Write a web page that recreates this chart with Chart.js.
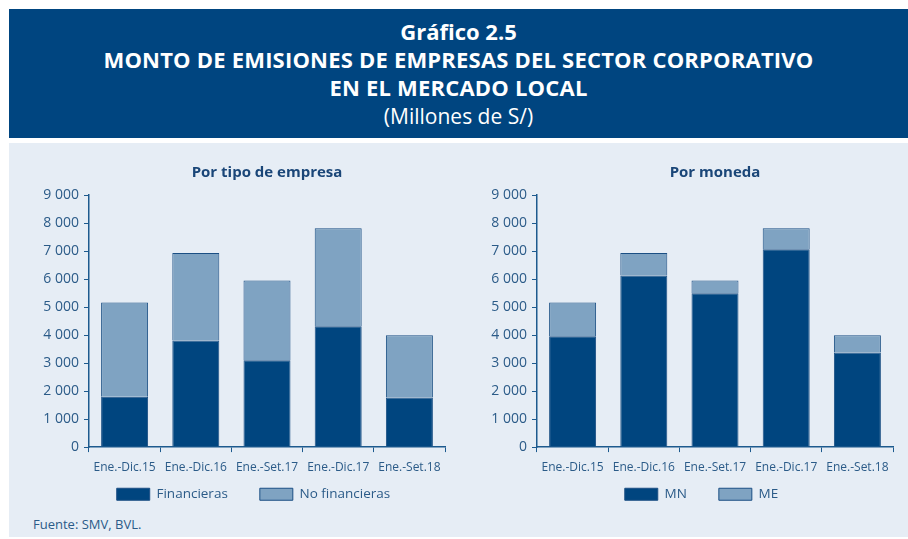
<!DOCTYPE html>
<html>
<head>
<meta charset="utf-8">
<script src="https://cdn.jsdelivr.net/npm/chart.js@4.4.1/dist/chart.umd.min.js"></script>
<style>
  body { margin: 0; width: 908px; height: 539px; background: #fff; position: relative; overflow: hidden; font-family: "Open Sans", sans-serif; }
  #banner { position: absolute; left: 9px; top: 9px; width: 899px; height: 129px; background: #004580; color: #fff; text-align: center; }
  #banner .l { position: absolute; left: 0; right: 0; line-height: 26px; }
  #panel { position: absolute; left: 9px; top: 143px; width: 899px; height: 394px; background: #e6edf5; }
  #src { position: absolute; left: 33px; top: 515px; font-size: 13px; color: #2b5b88; }
  canvas { position: absolute; }
</style>
</head>
<body>
<div id="banner">
  <div class="l" style="top:9px;font-size:22px;font-weight:700">Gráfico 2.5</div>
  <div class="l" style="top:37px;font-size:22px;font-weight:700;letter-spacing:0.2px">MONTO DE EMISIONES DE EMPRESAS DEL SECTOR CORPORATIVO</div>
  <div class="l" style="top:65px;font-size:22px;font-weight:700;letter-spacing:0.2px">EN EL MERCADO LOCAL</div>
  <div class="l" style="top:94px;font-size:21px">(Millones de S/)</div>
</div>
<div id="panel"></div>
<canvas id="c1" width="440" height="361" style="left:20px;top:150px"></canvas>
<canvas id="c2" width="440" height="361" style="left:468px;top:150px"></canvas>
<div id="src">Fuente: SMV, BVL.</div>
<script>
const categories = ['Ene.-Dic.15', 'Ene.-Dic.16', 'Ene.-Set.17', 'Ene.-Dic.17', 'Ene.-Set.18'];
const financieras = [1800, 3810, 3100, 4310, 1770];
const noFinancieras = [3360, 3120, 2850, 3500, 2220];
const mn = [3960, 6130, 5490, 7060, 3380];
const me = [1200, 800, 460, 750, 610];
const yTicks = [0, 1000, 2000, 3000, 4000, 5000, 6000, 7000, 8000, 9000];

const dark = '#00457f';
const light = '#7fa3c2';
const axis = '#1d5a8e';
const text = '#2b5b88';

function fmt(v) {
  return String(v).replace(/\B(?=(\d{3})+(?!\d))/g, ' ');
}

// wider gap between legend items, as in the original
function spacedLabels(chart) {
  const items = Chart.defaults.plugins.legend.labels.generateLabels(chart);
  items.forEach(it => { it.text = it.text + '\u2002\u2002\u2002\u2002'; });
  return items;
}

function makeChart(id, title, s1, s2) {
  const ctx = document.getElementById(id).getContext('2d');
  return new Chart(ctx, {
    type: 'bar',
    data: {
      labels: categories,
      datasets: [
        { label: s1.label, data: s1.data, backgroundColor: dark, borderColor: '#1b4f84', borderWidth: 1, barPercentage: 0.66, categoryPercentage: 1 },
        { label: s2.label, data: s2.data, backgroundColor: light, borderColor: '#1b4f84', borderWidth: 1, barPercentage: 0.66, categoryPercentage: 1 }
      ]
    },
    options: {
      responsive: false,
      animation: false,
      layout: { padding: { left: 0, right: 15, top: 0, bottom: 0 } },
      plugins: {
        title: { display: true, fullSize: false, text: title, color: '#1a4678', font: { family: 'Open Sans', size: 15, weight: 'bold' }, padding: { top: 14, bottom: 13 } },
        legend: {
          position: 'bottom',
          fullSize: false,
          labels: { boxWidth: 33, boxHeight: 12, color: text, font: { family: 'Open Sans', size: 13.5 }, padding: 5, generateLabels: spacedLabels }
        },
        tooltip: { enabled: false }
      },
      scales: {
        x: {
          stacked: true,
          grid: { drawOnChartArea: false, drawTicks: true, tickLength: 5, color: axis },
          border: { color: axis, width: 1.5 },
          ticks: { color: text, font: { family: 'Open Sans', size: 12 }, padding: 8, maxRotation: 0 }
        },
        y: {
          stacked: true,
          min: 0,
          max: 9000,
          afterBuildTicks: (s) => { s.ticks = yTicks.map(v => ({ value: v })); },
          afterFit: (s) => { s.width = 69; },
          grid: { drawOnChartArea: false, drawTicks: true, tickLength: 5, color: axis },
          border: { color: axis, width: 1.5 },
          ticks: { color: text, font: { family: 'Open Sans', size: 14 }, padding: 5, callback: (v) => fmt(v) }
        }
      }
    }
  });
}

makeChart('c1', 'Por tipo de empresa', { label: 'Financieras', data: financieras }, { label: 'No financieras', data: noFinancieras });
makeChart('c2', 'Por moneda', { label: 'MN', data: mn }, { label: 'ME', data: me });
</script>
</body>
</html>
